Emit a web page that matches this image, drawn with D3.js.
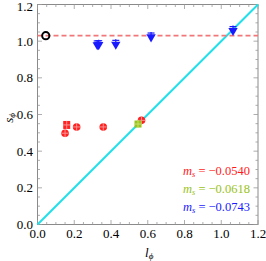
<!DOCTYPE html>
<html><head><meta charset="utf-8">
<script src="https://cdn.jsdelivr.net/npm/d3@7"></script>
<style>body{margin:0;background:#fff}svg{display:block}</style>
</head><body>
<svg id="c" width="266" height="261"></svg>
<script>
const xTicks = [0.0,0.2,0.4,0.6,0.8,1.0,1.2];
const yTicks = [0.0,0.2,0.4,0.6,0.8,1.0,1.2];
const refLine = 1.03;
const refPoint = [0.045, 1.03];
const redCircles = [[0.150,0.498],[0.213,0.532],[0.358,0.532],[0.566,0.568]];
const redSquares = [[0.159,0.543]];
const greenSquares = [[0.547,0.548]];
const bluePoints = [[0.325,0.985],[0.333,0.986],[0.426,0.988],[0.618,1.028],[1.064,1.063]];
const legendLabels = ["\u2212","\u2212","\u2212"];
const legendValues = ["0.0540","0.0618","0.0743"];
const legendColors = ["#ff1a1a","#99c21a","#1a1aff"];

const svg = d3.select("#c");
const x = d3.scaleLinear().domain([0,1.2]).range([37.5,258]);
const y = d3.scaleLinear().domain([0,1.2]).range([224.5,4.5]);
const font = "'Liberation Serif', 'DejaVu Serif', serif";

svg.append("rect").attr("x",x(0)).attr("y",y(1.2)).attr("width",x(1.2)-x(0)).attr("height",y(0)-y(1.2))
  .attr("fill","none").attr("stroke","#8a8a8a").attr("stroke-width",1);

const minor = d3.range(0,1.2001,0.05);
const g = svg.append("g").attr("stroke","#999").attr("stroke-width",0.8);
minor.forEach(v=>{
  const isMajor = Math.abs(v*5-Math.round(v*5))<1e-6;
  const L = isMajor?4.5:2.5;
  g.append("line").attr("x1",x(v)).attr("x2",x(v)).attr("y1",y(0)).attr("y2",y(0)-L);
  g.append("line").attr("x1",x(v)).attr("x2",x(v)).attr("y1",y(1.2)).attr("y2",y(1.2)+L);
  g.append("line").attr("y1",y(v)).attr("y2",y(v)).attr("x1",x(0)).attr("x2",x(0)+L);
  g.append("line").attr("y1",y(v)).attr("y2",y(v)).attr("x1",x(1.2)).attr("x2",x(1.2)-L);
});

svg.append("g").selectAll("text").data(xTicks).join("text")
  .attr("x",d=>x(d)).attr("y",238).attr("text-anchor","middle")
  .attr("font-family",font).attr("font-size",13).text(d=>d.toFixed(1));
svg.append("g").selectAll("text").data(yTicks).join("text")
  .attr("x",33).attr("y",d=>Math.max(y(d)+4.5,10.5)).attr("text-anchor","end")
  .attr("font-family",font).attr("font-size",13).text(d=>d.toFixed(1));

const xl = svg.append("text").attr("x",145).attr("y",257).attr("font-family",font).attr("font-size",13).attr("font-style","italic");
xl.append("tspan").text("l");
xl.append("tspan").attr("font-size",9).attr("dy",2).text("\u03d5");
const yl = svg.append("text").attr("transform","translate(13,118) rotate(-90)").attr("font-family",font).attr("font-size",13).attr("font-style","italic").attr("text-anchor","middle");
yl.append("tspan").text("s");
yl.append("tspan").attr("font-size",9).attr("dy",2).text("\u03d5");

svg.append("line").attr("x1",x(0)).attr("y1",y(0)).attr("x2",x(1.2)).attr("y2",y(1.2))
  .attr("stroke","#22e0ea").attr("stroke-width",2);
svg.append("line").attr("x1",x(0)).attr("y1",y(refLine)).attr("x2",x(1.2)).attr("y2",y(refLine))
  .attr("stroke","#f07878").attr("stroke-width",1.6).attr("stroke-dasharray","5,3");

const sym = (type,size)=>d3.symbol().type(type).size(size)();
function errbar(gp, d, color){
  gp.append("line").attr("x1",x(d[0])).attr("x2",x(d[0])).attr("y1",y(d[1])-4).attr("y2",y(d[1])+4).attr("stroke",color).attr("stroke-width",1);
  gp.append("line").attr("x1",x(d[0])-3.5).attr("x2",x(d[0])+3.5).attr("y1",y(d[1])).attr("y2",y(d[1])).attr("stroke",color).attr("stroke-width",1);
}
const pg = svg.append("g");
redCircles.forEach(d=>{
  pg.append("circle").attr("cx",x(d[0])).attr("cy",y(d[1])).attr("r",3.8).attr("fill","#ff2020");
  errbar(pg,d,"#ff9090");
});
redSquares.forEach(d=>{
  pg.append("rect").attr("x",x(d[0])-3.5).attr("y",y(d[1])-4).attr("width",7).attr("height",8).attr("fill","#ff2020");
  errbar(pg,d,"#ff9090");
});
greenSquares.forEach(d=>{
  pg.append("rect").attr("x",x(d[0])-3.5).attr("y",y(d[1])-3.5).attr("width",7).attr("height",7).attr("fill","#99c21a");
  errbar(pg,d,"#c8e070");
});
bluePoints.forEach(d=>{
  pg.append("path").attr("transform",`translate(${x(d[0])},${y(d[1])+1}) rotate(180)`).attr("d",sym(d3.symbolTriangle,38)).attr("fill","#1a1aff");
  pg.append("line").attr("x1",x(d[0])).attr("x2",x(d[0])).attr("y1",y(d[1])-4).attr("y2",y(d[1])+4).attr("stroke","#1a1aff").attr("stroke-width",1.2);
  pg.append("line").attr("x1",x(d[0])-3.5).attr("x2",x(d[0])+3.5).attr("y1",y(d[1])-3).attr("y2",y(d[1])-3).attr("stroke","#1a1aff").attr("stroke-width",1.2);
});
pg.append("circle").attr("cx",x(refPoint[0])).attr("cy",y(refPoint[1])).attr("r",3.6)
  .attr("fill","none").attr("stroke","#000").attr("stroke-width",2);

const lg = svg.append("g");
legendValues.forEach((v,i)=>{
  const t = lg.append("text").attr("x",250).attr("y",175+i*17.8).attr("text-anchor","end")
    .attr("font-family",font).attr("font-size",12.5).attr("fill",legendColors[i]);
  t.append("tspan").attr("font-style","italic").text("m");
  t.append("tspan").attr("font-style","italic").attr("font-size",8.5).attr("dy",2).text("s");
  t.append("tspan").attr("dy",-2).text(" = "+legendLabels[i]+v);
});
</script>
</body></html>
